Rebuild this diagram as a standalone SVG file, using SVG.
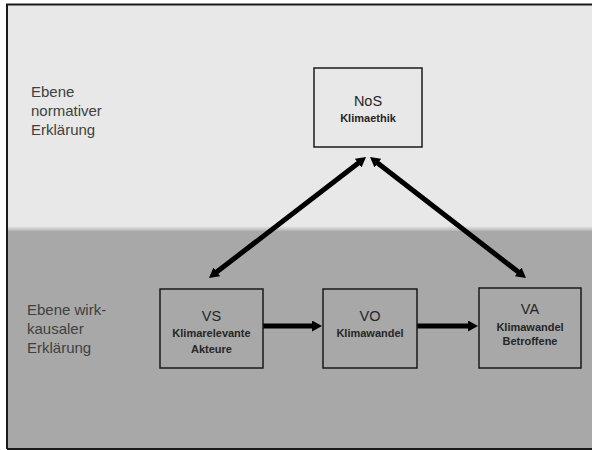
<svg xmlns="http://www.w3.org/2000/svg" width="592" height="450" viewBox="0 0 592 450">
<style>
.box{fill:none;stroke:#1a1a1a;stroke-width:1.5}
.t{font-family:"Liberation Sans",Arial,sans-serif;fill:#262626;text-anchor:middle}
.h{font-size:14.5px}
.s{font-size:11px;font-weight:bold}
.lbl{font-family:"Liberation Sans",Arial,sans-serif;font-size:15px;fill:#404040}
.con{stroke:#000;stroke-width:5;fill:none;marker-start:url(#ah);marker-end:url(#ah)}
.one{stroke:#000;stroke-width:5;fill:none;marker-end:url(#ah)}
</style>
<defs>
<linearGradient id="bg" x1="0" y1="0" x2="0" y2="1">
<stop offset="0" stop-color="#e8e8e8"/>
<stop offset="1" stop-color="#a8a8a8"/>
</linearGradient>
<marker id="ah" markerUnits="userSpaceOnUse" markerWidth="10" markerHeight="11" refX="2" refY="5.5" orient="auto-start-reverse" viewBox="0 0 10 11">
<path d="M0,0 L10,5.5 L0,11 z" fill="#000"/>
</marker>
</defs>
<rect x="0" y="0" width="592" height="450" fill="#ffffff"/>
<rect x="7" y="4.5" width="590" height="226" fill="#e8e8e8"/>
<rect x="7" y="226" width="590" height="6" fill="url(#bg)"/>
<rect x="7" y="231" width="590" height="218" fill="#a8a8a8"/>
<path d="M7,449 L7,4.5 L597,4.5 M7,449 L597,449" stroke="#1a1a1a" stroke-width="2" fill="none"/>
<g id="label-normativ">
<text class="lbl" x="31" y="97">Ebene</text>
<text class="lbl" x="31" y="116">normativer</text>
<text class="lbl" x="31" y="135">Erklärung</text>
</g>
<g id="label-kausal">
<text class="lbl" x="27" y="315">Ebene wirk-</text>
<text class="lbl" x="27" y="334">kausaler</text>
<text class="lbl" x="27" y="353">Erklärung</text>
</g>
<g id="connectors">
<line class="con" x1="215.3" y1="273.1" x2="359.7" y2="161.9"/>
<line class="con" x1="376.3" y1="161.9" x2="519.7" y2="273.1"/>
<line class="one" x1="263" y1="326" x2="314" y2="326"/>
<line class="one" x1="417" y1="326" x2="470" y2="326"/>
</g>
<g id="NoS">
<rect class="box" x="314" y="68" width="108" height="79"/>
<text class="t h" x="368" y="106">NoS</text>
<text class="t s" x="368" y="122">Klimaethik</text>
</g>
<g id="VS">
<rect class="box" x="160" y="289" width="103" height="79"/>
<text class="t h" x="211.5" y="321">VS</text>
<text class="t s" x="211.5" y="337">Klimarelevante</text>
<text class="t s" x="211.5" y="353">Akteure</text>
</g>
<g id="VO">
<rect class="box" x="323" y="289" width="94" height="79"/>
<text class="t h" x="370" y="321">VO</text>
<text class="t s" x="370" y="337">Klimawandel</text>
</g>
<g id="VA">
<rect class="box" x="479" y="288" width="102" height="80"/>
<text class="t h" x="530" y="314">VA</text>
<text class="t s" x="530" y="331">Klimawandel</text>
<text class="t s" x="530" y="345">Betroffene</text>
</g>
</svg>
